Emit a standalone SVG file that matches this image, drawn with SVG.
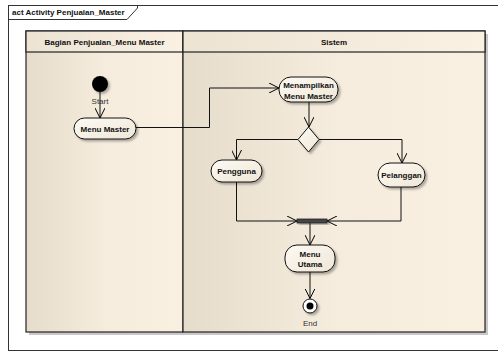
<svg xmlns="http://www.w3.org/2000/svg" width="498" height="351" viewBox="0 0 498 351">
  <defs>
    <linearGradient id="laneFill" x1="0" y1="0" x2="1" y2="0">
      <stop offset="0" stop-color="#e5dccb"/>
      <stop offset="0.5" stop-color="#f5ecdd"/>
      <stop offset="1" stop-color="#faf0e2"/>
    </linearGradient>
    <linearGradient id="headFill" x1="0" y1="0" x2="1" y2="0">
      <stop offset="0" stop-color="#ece3d3"/>
      <stop offset="1" stop-color="#fbf1e3"/>
    </linearGradient>
    <linearGradient id="nodeFill" x1="0" y1="0" x2="1" y2="1">
      <stop offset="0" stop-color="#fdfaf4"/>
      <stop offset="1" stop-color="#efe6d6"/>
    </linearGradient>
    <filter id="shadow" x="-20%" y="-20%" width="150%" height="150%">
      <feDropShadow dx="2" dy="2" stdDeviation="0.8" flood-color="#000" flood-opacity="0.3"/>
    </filter>
    <marker id="open" viewBox="0 0 10 10" refX="10" refY="5" markerWidth="10" markerHeight="10" markerUnits="userSpaceOnUse" orient="auto">
      <path d="M0,0 L10,5 L0,10" fill="none" stroke="#000" stroke-width="1"/>
    </marker>
  </defs>
  <style>
    .frame { fill: #fff; stroke: #333; stroke-width: 1; }
    .lane { fill: url(#laneFill); stroke: #222; stroke-width: 1.2; }
    .head { fill: url(#headFill); stroke: #222; stroke-width: 1.2; }
    .lshadow { fill: #c8c8c8; }
    .node { fill: url(#nodeFill); stroke: #111; stroke-width: 1; filter: url(#shadow); }
    .edge { fill: none; stroke: #111; stroke-width: 1; marker-end: url(#open); }
    .line { fill: none; stroke: #111; stroke-width: 1; }
    text { font-family: "Liberation Sans", Arial, sans-serif; fill: #111; }
    .lbl { font-size: 8px; font-weight: bold; text-anchor: middle; }
    .small { font-size: 8px; text-anchor: middle; fill: #333; }
    .title { font-size: 8px; font-weight: bold; }
  </style>

  <!-- diagram frame -->
  <g id="frame">
    <rect class="frame" x="8.5" y="5.5" width="500" height="345"/>
    <path d="M8.5,19.5 H127 L137.5,8 V5.5" fill="none" stroke="#333" stroke-width="1"/>
    <text class="title" x="12" y="15">act Activity Penjualan_Master</text>
  </g>

  <!-- swimlanes -->
  <g id="lanes">
    <rect class="lshadow" x="29" y="34" width="459" height="301"/>
    <g id="lane-bagian">
      <rect class="lane" x="26" y="31" width="157" height="301"/>
      <rect class="head" x="26" y="31" width="157" height="21"/>
      <text class="lbl" x="104.5" y="45">Bagian Penjualan_Menu Master</text>
    </g>
    <g id="lane-sistem">
      <rect class="lane" x="183" y="31" width="302" height="301"/>
      <rect class="head" x="183" y="31" width="302" height="21"/>
      <text class="lbl" x="334" y="45">Sistem</text>
    </g>
  </g>

  <!-- connectors -->
  <g id="connectors">
    <path class="edge" d="M100,92 V118"/>
    <path class="edge" d="M136,127.5 H209.5 V88 H279"/>
    <path class="edge" d="M309,102 V127"/>
    <path class="edge" d="M298,139.5 H236.5 V160"/>
    <path class="edge" d="M319,139.5 H402 V163"/>
    <path class="edge" d="M236.5,182 V221 H297"/>
    <path class="edge" d="M401,187 V221 H327"/>
    <path class="edge" d="M310,223 V245"/>
    <path class="edge" d="M310,272 V298.5"/>
  </g>

  <!-- nodes -->
  <g id="start">
    <circle cx="100" cy="84" r="8" fill="#000" filter="url(#shadow)"/>
    <text class="small" x="100" y="104">Start</text>
  </g>
  <g id="menu-master">
    <rect class="node" x="74" y="118" width="62" height="21" rx="10.5"/>
    <text class="lbl" x="105" y="131.5">Menu Master</text>
  </g>
  <g id="menampilkan">
    <rect class="node" x="279" y="77" width="59" height="25" rx="12"/>
    <text class="lbl" x="308.5" y="88">Menampilkan</text>
    <text class="lbl" x="308.5" y="98.5">Menu Master</text>
  </g>
  <g id="decision">
    <polygon class="node" points="308.5,127 319,139.5 308.5,152 298,139.5"/>
  </g>
  <g id="pengguna">
    <rect class="node" x="211" y="160" width="51" height="22" rx="11"/>
    <text class="lbl" x="236.5" y="173.5">Pengguna</text>
  </g>
  <g id="pelanggan">
    <rect class="node" x="378" y="163" width="47" height="24" rx="12"/>
    <text class="lbl" x="401.5" y="177.5">Pelanggan</text>
  </g>
  <g id="join">
    <rect x="297" y="219" width="30" height="4" fill="#444" stroke="#222" stroke-width="0.8" filter="url(#shadow)"/>
  </g>
  <g id="menu-utama">
    <rect class="node" x="285" y="245" width="50" height="27" rx="12"/>
    <text class="lbl" x="310" y="256.5">Menu</text>
    <text class="lbl" x="310" y="267">Utama</text>
  </g>
  <g id="end">
    <circle cx="310" cy="306" r="7" fill="#fff" stroke="#111" stroke-width="1" filter="url(#shadow)"/>
    <circle cx="310" cy="306" r="3.5" fill="#000"/>
    <text class="small" x="310" y="326">End</text>
  </g>
</svg>
